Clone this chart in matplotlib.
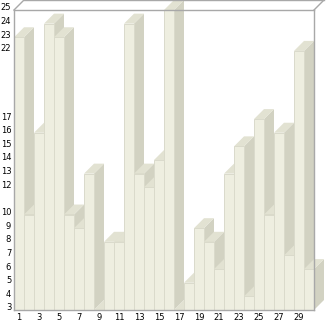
import matplotlib
matplotlib.use("Agg")
import matplotlib.pyplot as plt
from matplotlib.patches import Polygon
from matplotlib.lines import Line2D
import matplotlib.transforms as mtransforms

# ---- data ----
days = list(range(1, 31))
values = [23, 10, 16, 24, 23, 10, 9, 13, 3, 8,
          8, 24, 13, 12, 14, 25, 3, 5, 9, 8,
          6, 13, 15, 4, 17, 10, 16, 7, 22, 6]
x_tick_labels = [str(d) for d in range(1, 31, 2)]
y_tick_values = sorted(set(values))

# ---- style ----
FRONT = "#eeeee0"
SIDE = "#d2d2c2"
TOP = "#e2e2d2"
EDGE = "#dadacb"
FRAME = "#a8a8a8"

W, H = 326, 321
fig = plt.figure(figsize=(W / 100, H / 100), dpi=100)
ax = fig.add_axes([14 / W, 11 / H, 300 / W, 300 / H])
ymin, ymax = 3, 25
ax.set_xlim(0.5, 30.5)
ax.set_ylim(ymin, ymax)

# depth of the 3D effect: 1 slot horizontally, 10 px vertically
dx = 1.0
dy = 10 * (ymax - ymin) / 300.0

for i, (d, v) in enumerate(zip(days, values)):
    z = 2 + i * 0.01
    side = Polygon([(d + 0.5, ymin), (d + 0.5 + dx, ymin + dy),
                    (d + 0.5 + dx, v + dy), (d + 0.5, v)],
                   closed=True, facecolor=SIDE, edgecolor="none",
                   zorder=z, clip_on=False)
    ax.add_patch(side)
    top = Polygon([(d - 0.5, v), (d + 0.5, v), (d + 0.5 + dx, v + dy),
                   (d - 0.5 + dx, v + dy)],
                  closed=True, facecolor=TOP, edgecolor="none",
                  zorder=z + 0.001, clip_on=False)
    ax.add_patch(top)
    ax.bar(d, v - ymin, bottom=ymin, width=1.0, color=FRONT,
           edgecolor=EDGE, linewidth=0.7, zorder=z + 0.002, clip_on=False)

# frame
for s in ax.spines.values():
    s.set_color(FRAME)
    s.set_linewidth(1.0)
    s.set_zorder(10)
ax.add_line(Line2D([0.5, 0.5 + dx], [ymax, ymax + dy], color=FRAME, lw=1.0,
                   clip_on=False, zorder=10))
ax.add_line(Line2D([30.5, 30.5 + dx], [ymax, ymax + dy], color=FRAME, lw=1.0,
                   clip_on=False, zorder=10))
ax.add_line(Line2D([0.5 + dx, 30.5 + dx], [ymax + dy, ymax + dy], color=FRAME,
                   lw=1.0, clip_on=False, zorder=10))

ax.set_facecolor("white")
ax.set_xticks(list(range(1, 31, 2)))
ax.set_xticklabels(x_tick_labels)
ax.set_yticks(y_tick_values)
ax.set_yticklabels([str(v) for v in y_tick_values])
ax.tick_params(axis="both", length=0, labelsize=6, colors="black")
ax.tick_params(axis="y", pad=2)
ax.tick_params(axis="x", pad=2)
off = mtransforms.ScaledTranslation(0, 3 / 72 * 0.72, fig.dpi_scale_trans)
for lab in ax.get_yticklabels():
    lab.set_transform(lab.get_transform() + off)

fig.savefig("out.png", dpi=100, facecolor="white")
